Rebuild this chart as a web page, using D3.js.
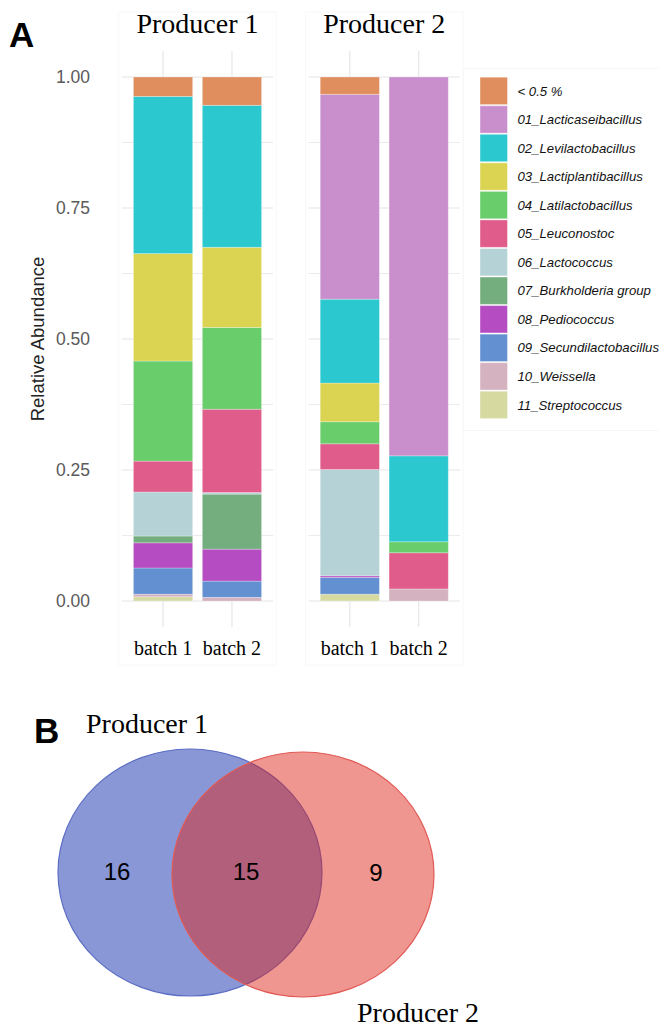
<!DOCTYPE html>
<html>
<head>
<meta charset="utf-8">
<script src="https://cdn.jsdelivr.net/npm/d3@7"></script>
<style>
  html, body { margin: 0; padding: 0; background: #fff; }
  svg { display: block; }
</style>
</head>
<body>
<svg id="chart" width="659" height="1027"></svg>
<script>
// ---------------- DATA ----------------
const producers = ["Producer 1", "Producer 2"];
const batches = ["batch 1", "batch 2"];
const genera = [
  "< 0.5 %", "01_Lacticaseibacillus", "02_Levilactobacillus", "03_Lactiplantibacillus",
  "04_Latilactobacillus", "05_Leuconostoc", "06_Lactococcus", "07_Burkholderia group",
  "08_Pediococcus", "09_Secundilactobacillus", "10_Weissella", "11_Streptococcus"
];
const genusColors = [
  "#E08E5E", "#C98FCD", "#2BC8CF", "#DBD452", "#6ACD6C", "#E05C8A",
  "#B5D3D7", "#74AE7E", "#B64CC1", "#6290D0", "#D5B2C0", "#D6D9A0"
];
// relative abundance per sample, in genus order above
const producer1Batch1 = [0.037, 0, 0.300, 0.205, 0.191, 0.059, 0.084, 0.013, 0.048, 0.050, 0.005, 0.008];
const producer1Batch2 = [0.054, 0, 0.271, 0.153, 0.156, 0.159, 0.003, 0.105, 0.061, 0.031, 0.007, 0];
const producer2Batch1 = [0.033, 0.391, 0.160, 0.074, 0.042, 0.049, 0.203, 0, 0.003, 0.032, 0, 0.013];
const producer2Batch2 = [0, 0.723, 0.164, 0, 0.021, 0.069, 0, 0, 0, 0, 0.023, 0];
const yTicks = [0, 0.25, 0.5, 0.75, 1];
const yMinorTicks = [0.125, 0.375, 0.625, 0.875];

const vennSets = ["Producer 1", "Producer 2"];
const vennCounts = [16, 15, 9]; // only P1, shared, only P2

// ---------------- BUILD ----------------
const sampleValues = {
  "Producer 1": { "batch 1": producer1Batch1, "batch 2": producer1Batch2 },
  "Producer 2": { "batch 1": producer2Batch1, "batch 2": producer2Batch2 }
};

const svg = d3.select("#chart");
const serif = "'Liberation Serif', 'Times New Roman', serif";
const sans = "'Liberation Sans', Arial, sans-serif";

// Panel A
svg.append("text").attr("x", 9).attr("y", 47)
  .attr("font-family", sans).attr("font-weight", "bold").attr("font-size", 35)
  .attr("fill", "#000").text("A");

const y = d3.scaleLinear().domain([0, 1]).range([601, 77]);
const panelTop = 51, panelBottom = 627;
const panelX = { "Producer 1": [121.7, 273.3], "Producer 2": [308.5, 460] };
const color = d3.scaleOrdinal().domain(genera).range(genusColors);

// legend frame (faint)
svg.append("rect").attr("x", 463.5).attr("y", 68.5).attr("width", 200).attr("height", 362)
  .attr("fill", "none").attr("stroke", "#f6f6f6");

producers.forEach(p => {
  const [x0, x1] = panelX[p];
  const x = d3.scalePoint().domain(batches).range([x0, x1]).padding(0.6);
  const barW = x.step() * 0.86;
  const g = svg.append("g");

  // faint facet frame
  g.append("rect").attr("x", x0 - 3).attr("y", 12).attr("width", x1 - x0 + 6).attr("height", 653)
    .attr("fill", "none").attr("stroke", "#f8f8f8");

  // gridlines
  g.selectAll(".hg").data(yTicks.concat(yMinorTicks)).join("line")
    .attr("x1", x0).attr("x2", x1)
    .attr("y1", d => y(d)).attr("y2", d => y(d))
    .attr("stroke", "#e6e6e6").attr("stroke-width", d => yTicks.includes(d) ? 1.2 : 0.8);
  g.selectAll(".vg").data(batches).join("line")
    .attr("x1", d => x(d)).attr("x2", d => x(d))
    .attr("y1", panelTop).attr("y2", panelBottom)
    .attr("stroke", "#e6e6e6").attr("stroke-width", 1.2);

  // stacked bars
  const rows = batches.map(b => {
    const o = { batch: b };
    genera.forEach((gname, i) => o[gname] = sampleValues[p][b][i]);
    return o;
  });
  const stack = d3.stack().keys(genera.slice().reverse());
  const series = stack(rows);
  g.selectAll(".layer").data(series).join("g")
    .attr("fill", d => color(d.key))
    .selectAll("rect").data(d => d.filter(s => s[1] - s[0] > 0)).join("rect")
    .attr("x", d => x(d.data.batch) - barW / 2)
    .attr("width", barW)
    .attr("y", d => y(d[1]))
    .attr("height", d => y(d[0]) - y(d[1]))
    .attr("stroke", "rgba(255,255,255,0.35)").attr("stroke-width", 0.8);

  // strip title
  svg.append("text").attr("x", (x0 + x1) / 2).attr("y", 33)
    .attr("text-anchor", "middle").attr("font-family", serif).attr("font-size", 28)
    .attr("fill", "#000").text(p);

  // x labels
  svg.selectAll(null).data(batches).join("text")
    .attr("x", d => x(d)).attr("y", 655)
    .attr("text-anchor", "middle").attr("font-family", serif).attr("font-size", 20)
    .attr("fill", "#000").text(d => d);
});

// y axis
const yAxis = d3.axisLeft(y).tickValues(yTicks).tickFormat(d3.format(".2f")).tickSize(0).tickPadding(0);
const ya = svg.append("g").attr("transform", "translate(90,0)").call(yAxis);
ya.select(".domain").remove();
ya.selectAll("text").attr("font-family", sans).attr("font-size", 17.5).attr("fill", "#5a5a5a");

svg.append("text").attr("transform", "translate(44,339) rotate(-90)")
  .attr("text-anchor", "middle").attr("font-family", sans).attr("font-size", 18.5)
  .attr("fill", "#222").text("Relative Abundance");

// legend
const legY = d3.scaleBand().domain(genera).range([77.2, 77.2 + 28.45 * genera.length]).paddingInner(0.04);
const lg = svg.append("g");
lg.selectAll("rect").data(genera).join("rect")
  .attr("x", 480).attr("width", 27.5)
  .attr("y", d => legY(d)).attr("height", legY.bandwidth())
  .attr("fill", d => color(d)).attr("stroke", "rgba(255,255,255,0.4)");
lg.selectAll("text").data(genera).join("text")
  .attr("x", 517.5).attr("y", d => legY(d) + legY.bandwidth() / 2)
  .attr("dy", "0.35em")
  .attr("font-family", sans).attr("font-style", "italic").attr("font-size", 13.2)
  .attr("fill", "#111").text(d => d);

// ---------------- Panel B: Venn ----------------
svg.append("text").attr("x", 34).attr("y", 743)
  .attr("font-family", sans).attr("font-weight", "bold").attr("font-size", 35)
  .attr("fill", "#000").text("B");

const vx = d3.scaleLinear().domain([0, 1]).range([190, 303]);
const vennGeom = [
  { set: vennSets[0], cx: vx(0), cy: 872.5, rx: 132, ry: 123.5, fill: "#8A97D6", opacity: 1, stroke: "#5B6DC4" },
  { set: vennSets[1], cx: vx(1), cy: 874.5, rx: 131, ry: 122.5, fill: "rgb(221,32,22)", opacity: 0.47, stroke: "#E25A55" }
];
svg.selectAll(".venn").data(vennGeom).join("ellipse")
  .attr("cx", d => d.cx).attr("cy", d => d.cy).attr("rx", d => d.rx).attr("ry", d => d.ry)
  .attr("fill", d => d.fill).attr("fill-opacity", d => d.opacity)
  .attr("stroke", d => d.stroke).attr("stroke-width", 1.2);

const countPos = [
  { x: 117, y: 880 }, { x: 246, y: 880 }, { x: 376, y: 881 }
];
svg.selectAll(".vc").data(vennCounts).join("text")
  .attr("x", (d, i) => countPos[i].x).attr("y", (d, i) => countPos[i].y)
  .attr("text-anchor", "middle").attr("font-family", sans).attr("font-size", 24)
  .attr("fill", "#000").text(d => d);

svg.append("text").attr("x", 86).attr("y", 733)
  .attr("font-family", serif).attr("font-size", 28).attr("fill", "#000").text(vennSets[0]);
svg.append("text").attr("x", 357).attr("y", 1022)
  .attr("font-family", serif).attr("font-size", 28).attr("fill", "#000").text(vennSets[1]);
</script>
</body>
</html>
